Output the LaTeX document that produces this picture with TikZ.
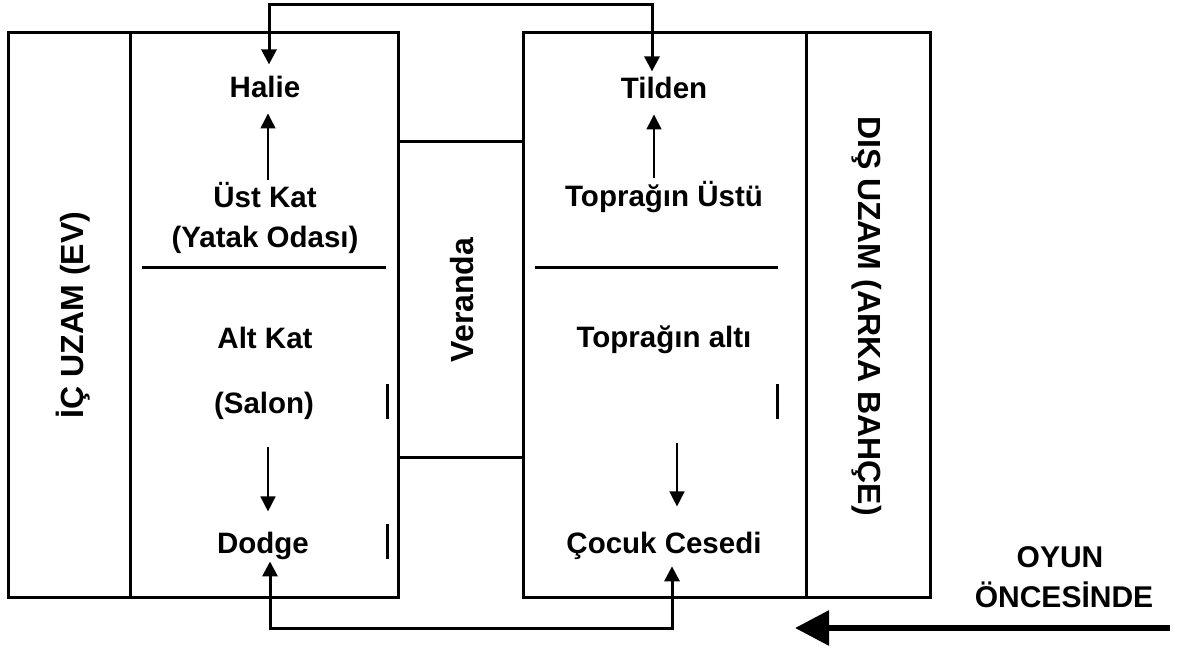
\documentclass[tikz,border=0pt]{standalone}
\usepackage{fontspec}
\setmainfont{Liberation Sans}
\usetikzlibrary{arrows.meta}

\tikzset{
  wall/.style={line width=3pt, line join=miter},
  lbl/.style={font=\fontsize{29.5}{34}\selectfont\bfseries, inner sep=2pt, anchor=base},
  head/.style={font=\fontsize{32}{38}\selectfont\bfseries, inner sep=0pt, anchor=base},
  stepline/.style={line width=1.5pt, -{Triangle[length=15pt,width=15pt]}},
  link/.style={line width=3pt, {Triangle[length=15pt,width=15pt]}-{Triangle[length=15pt,width=15pt]}},
}

\begin{document}
\begin{tikzpicture}[x=1pt, y=-1pt]

  %% canvas
  \path[use as bounding box] (0,0) rectangle (1186,653);

  %% house (left) and garden (right)
  \draw[wall] (8,32) rectangle (398,597);
  \draw[wall] (130,32) -- (130,597);
  \draw[wall] (142,267) -- (386,267);
  \draw[wall] (523,32) rectangle (930,597);
  \draw[wall] (806,32) -- (806,597);
  \draw[wall] (535,267) -- (778,267);

  %% veranda
  \draw[wall] (398,141) -- (523,141);
  \draw[wall] (398,457) -- (523,457);

  %% small bars
  \draw[wall] (387,384) -- (387,419);
  \draw[wall] (387,524) -- (387,559);
  \draw[wall] (777,384) -- (777,419);

  %% side titles
  \node[head, rotate=90] (ic) at (83,315) {İÇ UZAM (EV)};
  \node[head, rotate=90] (veranda) at (473,300) {Veranda};
  \node[head, rotate=-90] (dis) at (858,316) {DIŞ UZAM (ARKA BAHÇE)};

  %% left column
  \node[lbl] (halie) at (265,97) {Halie};
  \node[lbl] (ustkat) at (265,207) {Üst Kat};
  \node[lbl] (yatak) at (265,247) {(Yatak Odası)};
  \node[lbl] (altkat) at (265,348) {Alt Kat};
  \node[lbl] (salon) at (264,413) {(Salon)};
  \node[lbl] (dodge) at (263,553) {Dodge};

  %% right column
  \node[lbl] (tilden) at (664,98) {Tilden};
  \node[lbl] (topust) at (664,206) {Toprağın Üstü};
  \node[lbl] (topalt) at (664,347) {Toprağın altı};
  \node[lbl] (cocuk) at (664,553) {Çocuk Cesedi};

  %% before the play
  \node[head, font=\fontsize{30}{36}\selectfont\bfseries] (oyun) at (1060,567) {OYUN};
  \node[head, font=\fontsize{30}{36}\selectfont\bfseries] (once) at (1064,607) {ÖNCESİNDE};

  %% arrows inside the columns
  \draw[stepline, shorten <=0pt, shorten >=14pt] ([xshift=3pt]ustkat.north) -- ([xshift=3pt]ustkat.north |- halie.south);
  \draw[stepline, shorten <=1pt, shorten >=14pt] ([xshift=-10pt]topust.north) -- ([xshift=-10pt]topust.north |- tilden.south);
  \draw[stepline, shorten <=26pt, shorten >=18pt] ([xshift=4pt]salon.south) -- ([xshift=4pt]salon.south |- dodge.north);
  \draw[stepline, shorten <=88pt, shorten >=23pt] ([xshift=13pt]topalt.south) -- ([xshift=13pt]topalt.south |- cocuk.north);

  %% links over and under the veranda
  \coordinate (toprail) at (0,4);
  \coordinate (botrail) at (0,628);
  \draw[link, shorten <=9pt, shorten >=3pt] ([xshift=4pt]halie.north) -- ([xshift=4pt]halie.north |- toprail) -| ([xshift=-12pt]tilden.north);
  \draw[link, shorten >=5pt] ([xshift=7pt]dodge.south) -- ([xshift=7pt]dodge.south |- botrail) -| ([xshift=8pt]cocuk.south);

  %% time arrow
  \coordinate (flowstart) at (1170,628);
  \coordinate (flowend) at (795,628);
  \draw[line width=6pt, -{Triangle[length=34pt,width=34pt]}] (flowstart) -- (flowend);

\end{tikzpicture}
\end{document}
